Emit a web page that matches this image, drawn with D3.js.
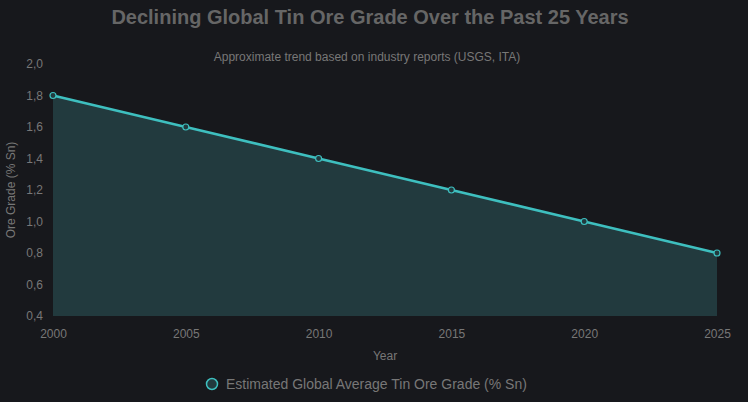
<!DOCTYPE html>
<html>
<head>
<meta charset="utf-8">
<script src="https://cdn.jsdelivr.net/npm/d3@7"></script>
<style>
  body { margin: 0; background: #17181c; }
  text { font-family: "Liberation Sans", Arial, sans-serif; }
</style>
</head>
<body>
<div id="chart"></div>
<script>
// Chart data
const years = [2000, 2005, 2010, 2015, 2020, 2025];
const grades = [1.8, 1.6, 1.4, 1.2, 1.0, 0.8];
const yTicks = [0.4, 0.6, 0.8, 1.0, 1.2, 1.4, 1.6, 1.8, 2.0];
const seriesName = "Estimated Global Average Tin Ore Grade (% Sn)";

const width = 748, height = 402;
const margin = { left: 53, right: 31, top: 64, bottom: 86 };

const svg = d3.select("#chart").append("svg")
  .attr("width", width)
  .attr("height", height);

svg.append("rect").attr("width", width).attr("height", height).attr("fill", "#17181c");

const x = d3.scaleLinear().domain([2000, 2025]).range([margin.left, width - margin.right]);
const y = d3.scaleLinear().domain([0.4, 2.0]).range([height - margin.bottom, margin.top]);

const data = years.map((yr, i) => ({ year: yr, value: grades[i] }));

// Title and subtitle
svg.append("text")
  .attr("x", 370).attr("y", 24)
  .attr("text-anchor", "middle")
  .attr("fill", "#666")
  .style("font-size", "20px").style("font-weight", "bold")
  .text("Declining Global Tin Ore Grade Over the Past 25 Years");

svg.append("text")
  .attr("x", 367).attr("y", 61)
  .attr("text-anchor", "middle")
  .attr("fill", "#777")
  .style("font-size", "12px")
  .text("Approximate trend based on industry reports (USGS, ITA)");

// Area fill
const area = d3.area()
  .x(d => x(d.year))
  .y0(y(0.4))
  .y1(d => y(d.value));

svg.append("path")
  .datum(data)
  .attr("d", area)
  .attr("fill", "#223a3e");

// Line
const line = d3.line().x(d => x(d.year)).y(d => y(d.value));
svg.append("path")
  .datum(data)
  .attr("d", line)
  .attr("fill", "none")
  .attr("stroke", "#3ebfbf")
  .attr("stroke-width", 2.6);

// Points
svg.selectAll("circle.pt")
  .data(data)
  .enter()
  .append("circle")
  .attr("class", "pt")
  .attr("cx", d => x(d.year))
  .attr("cy", d => y(d.value))
  .attr("r", 3)
  .attr("fill", "#223a3e")
  .attr("stroke", "#3ebfbf")
  .attr("stroke-width", 1.2);

// Y axis
const fmt = v => d3.format(".1f")(v).replace(".", ",");
const yAxis = svg.append("g")
  .attr("transform", `translate(${margin.left},0)`)
  .call(d3.axisLeft(y).tickValues(yTicks).tickFormat(fmt).tickSize(0).tickPadding(10));
yAxis.select(".domain").remove();
yAxis.selectAll("text").attr("fill", "#777").style("font-size", "12px");

// X axis
const xAxis = svg.append("g")
  .attr("transform", `translate(0,${height - margin.bottom})`)
  .call(d3.axisBottom(x).tickValues(years).tickFormat(d3.format("d")).tickSize(0).tickPadding(13));
xAxis.select(".domain").remove();
xAxis.selectAll("text").attr("fill", "#777").style("font-size", "12px");

// Axis titles
svg.append("text")
  .attr("x", (margin.left + width - margin.right) / 2)
  .attr("y", 360)
  .attr("text-anchor", "middle")
  .attr("fill", "#777")
  .style("font-size", "12px")
  .text("Year");

svg.append("text")
  .attr("transform", `translate(15,${(margin.top + height - margin.bottom) / 2}) rotate(-90)`)
  .attr("text-anchor", "middle")
  .attr("fill", "#777")
  .style("font-size", "12px")
  .text("Ore Grade (% Sn)");

// Legend
const legend = svg.append("g").attr("transform", "translate(212,384)");
legend.append("circle")
  .attr("r", 5.5)
  .attr("fill", "#223a3e")
  .attr("stroke", "#3ebfbf")
  .attr("stroke-width", 1.5);
legend.append("text")
  .attr("x", 14).attr("y", 5)
  .attr("fill", "#777")
  .style("font-size", "14px")
  .text(seriesName);
</script>
</body>
</html>
